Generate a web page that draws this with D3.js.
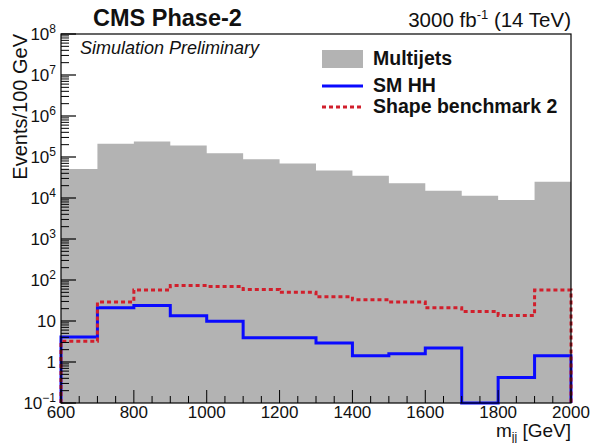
<!DOCTYPE html>
<html>
<head>
<meta charset="utf-8">
<script src="https://cdn.jsdelivr.net/npm/d3@7"></script>
<style>
  body { margin: 0; background: #fff; }
  svg { display: block; font-family: "Liberation Sans", Arial, Helvetica, sans-serif; }
</style>
</head>
<body>
<svg id="chart" width="590" height="443"></svg>
<script>
// ---- data ----
const binEdges = [600, 700, 800, 900, 1000, 1100, 1200, 1300, 1400, 1500, 1600, 1700, 1800, 1900, 2000];
const multijets = [5.1e4, 2.1e5, 2.4e5, 1.9e5, 1.23e5, 8.8e4, 6.9e4, 4.7e4, 3.5e4, 2.3e4, 1.5e4, 1.14e4, 8.9e3, 2.5e4];
const smHH = [4.1, 21, 24, 13.4, 9.8, 3.9, 3.9, 2.9, 1.42, 1.6, 2.2, 0, 0.42, 1.42];
const benchmark2 = [3.2, 29, 57, 73, 69, 59, 50, 39, 33, 29, 21, 17, 13.7, 57];
const xTicks = [600, 800, 1000, 1200, 1400, 1600, 1800, 2000];
const yDecades = [-1, 0, 1, 2, 3, 4, 5, 6, 7, 8];
const legendLabels = ["Multijets", "SM HH", "Shape benchmark 2"];

// ---- layout ----
const L = 61, R = 571, T = 34, B = 403;
const svg = d3.select("#chart");
const x = d3.scaleLinear().domain([600, 2000]).range([L, R]);
const y = d3.scaleLog().domain([0.1, 1e8]).range([B, T]).clamp(true);

const gray = "#b3b3b3", blue = "#0a0aff", red = "#d11f2c";

function stepPoints(vals) {
  const pts = [[binEdges[0], 0.1]];
  vals.forEach((v, i) => {
    const vv = Math.max(v, 0.1);
    pts.push([binEdges[i], vv]);
    pts.push([binEdges[i + 1], vv]);
  });
  pts.push([binEdges[binEdges.length - 1], 0.1]);
  return pts;
}
const line = d3.line().x(d => x(d[0])).y(d => y(d[1]));

const plot = svg.append("g");
plot.append("path").attr("d", line(stepPoints(multijets)) + "Z")
  .attr("fill", gray).attr("stroke", "none");
plot.append("path").attr("d", line(stepPoints(smHH)))
  .attr("fill", "none").attr("stroke", blue).attr("stroke-width", 3);
plot.append("path").attr("d", line(stepPoints(benchmark2)))
  .attr("fill", "none").attr("stroke", red).attr("stroke-width", 3)
  .attr("stroke-dasharray", "4,3");

// frame
svg.append("rect").attr("x", L).attr("y", T).attr("width", R - L).attr("height", B - T)
  .attr("fill", "none").attr("stroke", "#000").attr("stroke-width", 1.2);

// x axis ticks
const xMinor = d3.range(600, 2001, 50);
svg.append("g").selectAll("line").data(xMinor).join("line")
  .attr("x1", d => x(d)).attr("x2", d => x(d))
  .attr("y1", B).attr("y2", d => (d % 200 === 0 ? B - 13 : B - 7))
  .attr("stroke", "#000").attr("stroke-width", 1);
svg.append("g").selectAll("text").data(xTicks).join("text")
  .attr("x", d => x(d)).attr("y", 418).attr("text-anchor", "middle")
  .attr("font-size", 17).attr("fill", "#111").text(d => d);

// y axis ticks
const yMinor = [];
yDecades.forEach(e => { if (e < 8) for (let k = 2; k <= 9; k++) yMinor.push(k * Math.pow(10, e)); });
svg.append("g").selectAll("line").data(yMinor).join("line")
  .attr("x1", L).attr("x2", L + 8).attr("y1", d => y(d)).attr("y2", d => y(d))
  .attr("stroke", "#000").attr("stroke-width", 1);
svg.append("g").selectAll("line").data(yDecades).join("line")
  .attr("x1", L).attr("x2", L + 15).attr("y1", d => y(Math.pow(10, d))).attr("y2", d => y(Math.pow(10, d)))
  .attr("stroke", "#000").attr("stroke-width", 1.2);
const yl = svg.append("g").selectAll("text").data(yDecades).join("text")
  .attr("x", 56).attr("y", d => y(Math.pow(10, d)) + 6).attr("text-anchor", "end")
  .attr("font-size", 17).attr("fill", "#111");
yl.each(function (d) {
  const t = d3.select(this);
  if (d === 0) { t.text("1"); return; }
  if (d === 1) { t.text("10"); return; }
  t.append("tspan").text("10");
  t.append("tspan").attr("dy", -7).attr("font-size", 12).text(d === -1 ? "\u22121" : d);
});

// axis titles
svg.append("text").attr("transform", "translate(27,34) rotate(-90)")
  .attr("text-anchor", "end").attr("font-size", 20).attr("fill", "#111")
  .text("Events/100 GeV");
const xt = svg.append("text").attr("x", R).attr("y", 437).attr("text-anchor", "end")
  .attr("font-size", 19).attr("fill", "#111");
xt.append("tspan").text("m");
xt.append("tspan").attr("dy", 4).attr("font-size", 12).text("jj");
xt.append("tspan").attr("dy", -4).text(" [GeV]");

// header
svg.append("text").attr("x", 93).attr("y", 26).attr("font-size", 23.5).attr("font-weight", "bold")
  .attr("fill", "#111").text("CMS Phase-2");
const lumi = svg.append("text").attr("x", R).attr("y", 27).attr("text-anchor", "end")
  .attr("font-size", 20.5).attr("fill", "#111");
lumi.append("tspan").text("3000 fb");
lumi.append("tspan").attr("dy", -8).attr("font-size", 13).text("-1");
lumi.append("tspan").attr("dy", 8).text(" (14 TeV)");
svg.append("text").attr("x", 80).attr("y", 54).attr("font-size", 18).attr("font-style", "italic")
  .attr("fill", "#111").text("Simulation Preliminary");

// legend
const lg = svg.append("g");
const legY = [59, 86, 107];
lg.append("rect").attr("x", 322).attr("y", 50).attr("width", 41).attr("height", 18).attr("fill", gray);
lg.append("line").attr("x1", 322).attr("x2", 363).attr("y1", legY[1]).attr("y2", legY[1])
  .attr("stroke", blue).attr("stroke-width", 3);
lg.append("line").attr("x1", 322).attr("x2", 363).attr("y1", legY[2]).attr("y2", legY[2])
  .attr("stroke", red).attr("stroke-width", 3).attr("stroke-dasharray", "4,3");
lg.selectAll("text.leg").data(legendLabels).join("text").attr("class", "leg")
  .attr("x", 373).attr("y", (d, i) => legY[i] + 6).attr("font-size", 19.5).attr("font-weight", "bold")
  .attr("fill", "#111").text(d => d);
</script>
</body>
</html>
